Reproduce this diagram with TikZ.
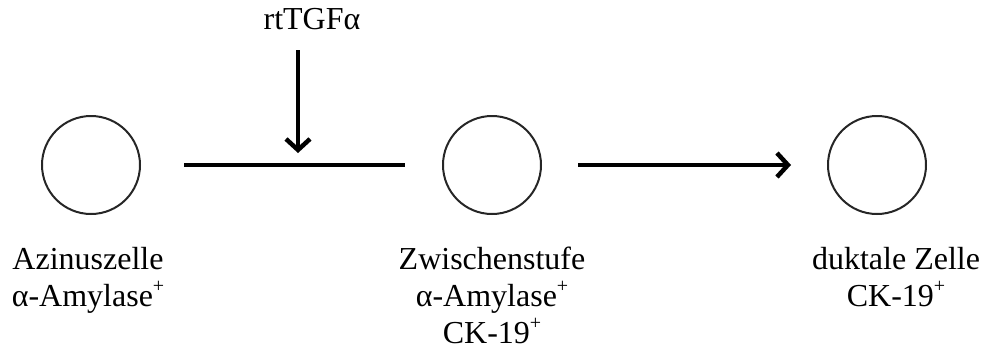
\documentclass[tikz,border=0pt]{standalone}
\usepackage{fontspec}
\setmainfont{Liberation Serif}
\usetikzlibrary{arrows.meta}
\newcommand\plussup{\raisebox{14pt}{\fontsize{20}{20}\selectfont +}}
\begin{document}
\begin{tikzpicture}[x=1pt,y=-1pt,
  cell/.style={circle,draw=black!85,line width=2pt,minimum size=98pt,inner sep=0pt},
  lbl/.style={font=\fontsize{32}{37}\selectfont,align=center,inner sep=0pt,anchor=north},
  conn/.style={line width=4.5pt},
  arr/.style={conn,-{Straight Barb[length=11pt,width=24pt,line width=4.5pt]}}]
\useasboundingbox (0,0) rectangle (983,349);
\node[cell] (c1) at (91,165) {};
\node[cell] (c2) at (492,165) {};
\node[cell] (c3) at (877,165) {};
\node[lbl] (t1) at (88,247) {Azinuszelle\\α-Amylase\plussup};
\node[lbl] (t2) at (492,247) {Zwischenstufe\\α-Amylase\plussup\\CK-19\plussup};
\node[lbl] (t3) at (896,247) {duktale Zelle\\CK-19\plussup};
\node[lbl] (tg) at (312,8) {rtTGFα};
\coordinate (a1) at (298,50);
\coordinate (a2) at (298,153);
\draw[conn,shorten <=43pt,shorten >=37pt] (c1) -- (c2);
\draw[arr] (a1) -- (a2);
\draw[arr,shorten <=36pt,shorten >=36pt] (c2) -- (c3);
\end{tikzpicture}
\end{document}
